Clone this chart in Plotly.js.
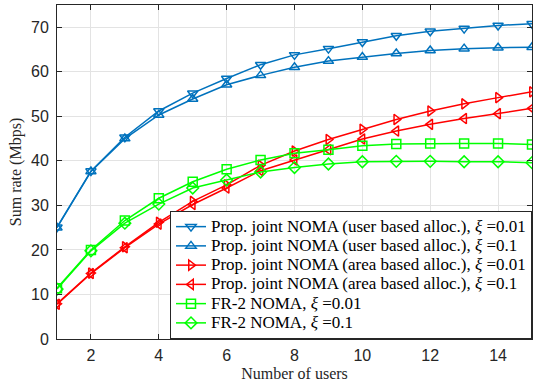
<!DOCTYPE html>
<html>
<head>
<meta charset="utf-8">
<script src="https://cdn.plot.ly/plotly-3.0.1.min.js"></script>
<style>html,body{margin:0;padding:0;background:#fff;}#chart{width:536px;height:388px;}</style>
</head>
<body>
<div id="chart"></div>
<script>
const users = [1,2,3,4,5,6,7,8,9,10,11,12,13,14,15];
const userBased001 = [25.1,37.7,45.3,51.2,55.2,58.5,61.6,63.8,65.2,66.7,68.1,69.1,69.7,70.4,70.8];
const userBased01  = [25.0,37.6,45.0,50.3,53.9,57.1,59.2,61.0,62.4,63.3,64.1,64.8,65.2,65.4,65.5];
const areaBased001 = [7.9,14.8,20.7,26.2,30.9,34.6,39.0,42.2,44.8,47.1,49.3,51.2,52.8,54.2,55.5];
const areaBased01  = [7.8,14.7,20.5,25.8,30.2,33.9,37.8,40.2,42.5,44.9,46.7,48.2,49.5,50.6,51.8];
const fr2001 = [11.4,20.0,26.6,31.6,35.3,38.1,40.2,41.7,42.5,43.4,43.8,43.9,43.9,43.9,43.7];
const fr201  = [11.2,19.8,26.0,30.3,33.9,35.7,37.5,38.5,39.3,39.8,39.9,39.9,39.8,39.8,39.6];
const seriesNames = [
  'Prop. joint NOMA (user based alloc.), <i>ξ</i> =0.01',
  'Prop. joint NOMA (user based alloc.), <i>ξ</i> =0.1',
  'Prop. joint NOMA (area based alloc.), <i>ξ</i> =0.01',
  'Prop. joint NOMA (area based alloc.), <i>ξ</i> =0.1',
  'FR-2 NOMA, <i>ξ</i> =0.01',
  'FR-2 NOMA, <i>ξ</i> =0.1'
];
const xTicks = [2,4,6,8,10,12,14];
const yTicks = [0,10,20,30,40,50,60,70];

const blue = '#0072BD', red = '#FF0000', green = '#00FF00';
function tr(y, name, color, sym) {
  return {x: users, y: y, name: '<span style="font-size:17px">' + name + '</span>', type: 'scatter', mode: 'lines+markers',
    line: {color: color, width: 1.5},
    marker: {symbol: sym, size: 9, color: color, line: {color: color, width: 1.5}}};
}
const data = [
  tr(userBased001, seriesNames[0], blue, 'triangle-down-open'),
  tr(userBased01, seriesNames[1], blue, 'triangle-up-open'),
  tr(areaBased001, seriesNames[2], red, 'triangle-right-open'),
  tr(areaBased01, seriesNames[3], red, 'triangle-left-open'),
  tr(fr2001, seriesNames[4], green, 'square-open'),
  tr(fr201, seriesNames[5], green, 'diamond-open')
];
const axisCommon = {
  showline: true, linecolor: '#262626', linewidth: 1, mirror: 'ticks',
  ticks: 'inside', ticklen: 5, tickcolor: '#262626', tickwidth: 1,
  showgrid: true, gridcolor: '#e3e3e3', gridwidth: 1, zeroline: false,
  tickfont: {family: 'Liberation Sans, Arial, sans-serif', size: 16, color: '#262626'}
};
const layout = {
  width: 536, height: 388,
  margin: {l: 57, r: 4, t: 5, b: 49},
  paper_bgcolor: '#fff', plot_bgcolor: '#fff',
  showlegend: true,
  xaxis: Object.assign({}, axisCommon, {
    range: [1, 15], tickmode: 'array', tickvals: xTicks, ticktext: xTicks.map(String),
    ticklabelstandoff: 2,
    title: {text: 'Number of users', font: {family: 'Liberation Serif, Times New Roman, serif', size: 16, color: '#262626'}, standoff: 4}
  }),
  yaxis: Object.assign({}, axisCommon, {
    range: [0, 75], tickmode: 'array', tickvals: yTicks, ticktext: yTicks.map(String),
    ticklabelstandoff: 4,
    title: {text: 'Sum rate (Mbps)', font: {family: 'Liberation Serif, Times New Roman, serif', size: 16, color: '#262626'}, standoff: 5}
  }),
  legend: {
    x: 1, y: 0, xanchor: 'right', yanchor: 'bottom',
    bgcolor: '#fff', bordercolor: '#262626', borderwidth: 1,
    font: {family: 'Liberation Serif, Times New Roman, serif', size: 12.5, color: '#000'},
    tracegroupgap: 0, itemwidth: 30
  }
};
Plotly.newPlot('chart', data, layout, {displayModeBar: false, staticPlot: true});
</script>
</body>
</html>
